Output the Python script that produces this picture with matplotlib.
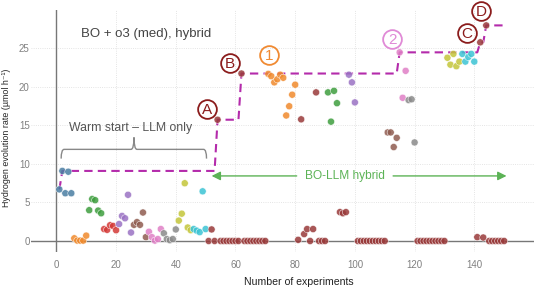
import numpy as np
import matplotlib.pyplot as plt
from matplotlib.path import Path
from matplotlib.patches import PathPatch

plt.rcParams['font.family'] = ['Liberation Sans', 'DejaVu Sans']

# warm start: LLM only, 10 batches of 5
warm_y = [6.7, 9.1, 6.2, 9.0, 6.2,
          0.35, 0.05, 0.05, 0.05, 0.7,
          4.0, 5.45, 5.3, 3.95, 3.6,
          1.55, 1.45, 2.05, 1.95, 1.4,
          2.2, 3.25, 2.95, 6.0, 1.1,
          2.1, 2.45, 2.1, 3.7, 0.5,
          1.2, 0.5, 0.05, 0.25, 1.55,
          1.0, 0.25, 0.1, 0.25, 1.5,
          2.65, 3.55, 7.5, 1.75, 1.4,
          1.55, 1.35, 1.15, 6.45, 1.55]
warm_src = (['blue'] * 5 + ['orange'] * 5 + ['green'] * 5 + ['red'] * 5 + ['purple'] * 5
            + ['brown'] * 5 + ['pink'] * 5 + ['gray'] * 5 + ['olive'] * 5 + ['cyan'] * 5)

# BO-LLM hybrid, experiments 51-150
hyb_y = ([0, 1.5, 0, 15.75] + [0] * 7 + [21.75] + [0] * 8
         + [21.7, 21.4, 20.6, 21.0, 21.6, 21.2, 16.3, 17.5, 19.0, 20.3]
         + [0.15, 15.8, 0.9, 1.55, 0, 1.55, 19.3, 0, 0, 0]
         + [19.3, 15.5, 19.5, 17.9, 3.75, 3.6, 3.75, 21.6, 20.6, 18.0]
         + [0] * 10
         + [14.1, 14.1, 12.2, 13.4, 24.5, 18.6, 22.1, 18.3, 18.4, 12.8]
         + [0] * 10
         + [23.8, 22.9, 24.3, 22.7, 23.3, 24.3, 23.3, 23.9, 24.3, 23.3]
         + [0.5, 25.8, 0.45, 28.0] + [0] * 6)
hyb_src = (['bo'] * 20 + ['orange'] * 10 + ['bo'] * 10
           + ['green'] * 4 + ['bo'] * 3 + ['purple'] * 3 + ['bo'] * 10
           + ['brown'] * 4 + ['pink'] * 3 + ['gray'] * 3 + ['bo'] * 10
           + ['olive'] * 5 + ['cyan'] * 5 + ['bo'] * 10)

palette = {'blue': '#4a7ea3', 'orange': '#f08a2c', 'green': '#3e9e3e', 'red': '#d43a37',
           'purple': '#9a72c4', 'brown': '#8f5c50', 'pink': '#e07fc6', 'gray': '#8a8a8a',
           'olive': '#c4c63a', 'cyan': '#3cc4d4', 'bo': '#993a3a'}

y = np.array(warm_y + hyb_y)
src = warm_src + hyb_src
x = np.arange(1, len(y) + 1)
best = np.maximum.accumulate(y)

fig = plt.figure(figsize=(5.34, 2.88), dpi=100)
ax = fig.add_axes([31/534, 36/288, 503/534, 242/288])
ax.set_xlim(-8.5, 160)
ax.set_ylim(-1.43, 30)
for s in ax.spines.values():
    s.set_visible(False)
ax.set_xticks(range(0, 141, 20))
ax.set_yticks(range(0, 26, 5))
ax.tick_params(length=0, labelsize=7, colors='#808080')
ax.tick_params(axis='x', pad=6)
ax.tick_params(axis='y', pad=1)
ax.grid(True, color='#dcdcdc', lw=0.6, ls=':')
ax.set_axisbelow(True)
ax.axhline(0, color='#777777', lw=1, zorder=1)
ax.axvline(0, color='#777777', lw=1, zorder=1)

ax.plot(x, best, color='#b42bab', lw=1.5, dashes=(4, 2.5), zorder=2)
ax.scatter(x, y, s=26, c=[palette[k] for k in src], alpha=0.85,
           edgecolors='white', linewidths=0.4, zorder=3)

ax.text(8.3, 26.9, 'BO + o3 (med), hybrid', fontsize=9.5, color='#444444', va='center')

# circled markers
def circ(cx, cy, s, col):
    ax.plot(cx, cy, 'o', ms=13.5, mfc='none', mec=col, mew=1.3, zorder=4, clip_on=False)
    ax.text(cx, cy - 0.1, s, ha='center', va='center', fontsize=11, color=col, zorder=4,
            clip_on=False)

circ(50.4, 17.1, 'A', '#8b1c1c')
circ(58.2, 23.1, 'B', '#8b1c1c')
circ(137.6, 27.0, 'C', '#8b1c1c')
circ(142.2, 29.9, 'D', '#8b1c1c')
circ(71.2, 24.1, '1', '#f08a32')
circ(112.5, 26.2, '2', '#e08ad6')

# brace over warm start
L, R, xc, yb = 1.6, 50.3, 26.0, 11.9
verts = [(L, yb - 1.2), (L, yb), (L + 1, yb), (xc - 1, yb), (xc, yb), (xc, yb + 1.55),
         (xc, yb), (xc + 1, yb), (R - 1, yb), (R, yb), (R, yb - 1.2)]
codes = [Path.MOVETO, Path.CURVE3, Path.CURVE3, Path.LINETO, Path.CURVE3, Path.CURVE3,
         Path.CURVE3, Path.CURVE3, Path.LINETO, Path.CURVE3, Path.CURVE3]
ax.add_patch(PathPatch(Path(verts, codes), fc='none', ec='#888888', lw=1))
ax.text(25.0, 14.7, 'Warm start \u2013 LLM only', fontsize=8.8, color='#555555',
        ha='center', va='center')

# hybrid arrow
green = '#5cb356'
ax.annotate('', xy=(52, 8.45), xytext=(80.5, 8.45),
            arrowprops=dict(arrowstyle='-|>', color=green, lw=1, mutation_scale=13,
                            shrinkA=0, shrinkB=0))
ax.annotate('', xy=(150.8, 8.45), xytext=(112.8, 8.45),
            arrowprops=dict(arrowstyle='-|>', color=green, lw=1, mutation_scale=13,
                            shrinkA=0, shrinkB=0))
ax.text(96.6, 8.45, 'BO-LLM hybrid', fontsize=8.6, color=green, ha='center', va='center')

fig.text(299/534, 1 - 281.7/288, 'Number of experiments', fontsize=7.6, color='#222222',
         ha='center', va='center')
fig.text(7/534, 1 - 138/288, 'Hydrogen evolution rate (\u00b5mol h\u207b\u00b9)', fontsize=6.4,
         color='#222222', ha='center', va='center', rotation=90)

fig.savefig('out.png', dpi=100)
